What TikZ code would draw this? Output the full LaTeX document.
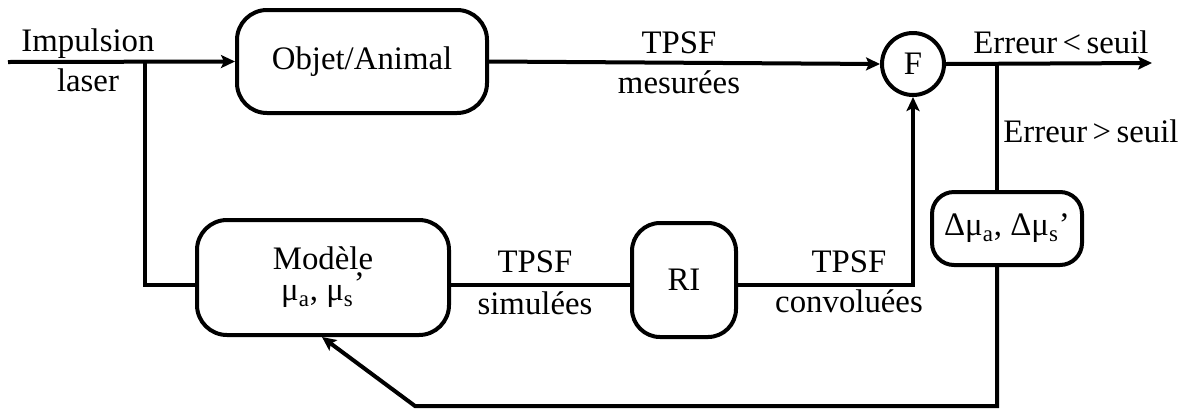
\documentclass[tikz,border=0pt]{standalone}
\usepackage{fontspec}
\setmainfont{Liberation Serif}
\usetikzlibrary{arrows.meta}
\begin{document}
\begin{tikzpicture}[x=0.5pt,y=-0.5pt,
  every node/.style={font=\fontsize{16.4}{17}\selectfont},
  box/.style={draw, line width=2pt, rounded corners=15pt, inner sep=0pt, align=center},
  ln/.style={line width=2pt},
  arr/.style={ln, -{Stealth[length=7pt,width=6.5pt,inset=1.5pt]}},
  lbl/.style={anchor=base, inner sep=0pt}]
\useasboundingbox (0,0) rectangle (1192,408);

% boxes
\node[box, minimum width=125pt, minimum height=51.5pt] (objet) at (362,61.5) {Objet/Animal};
\node[box, minimum width=126pt, minimum height=57.5pt] (model) at (323,277.5)
  {Modèle\\[-1.5pt] μ\textsubscript{a}, μ\textsubscript{s}\raisebox{3pt}{’}};
\node[box, rounded corners=14pt, minimum width=52pt, minimum height=57pt] (RI) at (684,280) {RI};
\node[box, rounded corners=11pt, minimum width=75pt, minimum height=36.5pt] (delta) at (1007,228.5)
  {Δμ\textsubscript{a}, Δμ\textsubscript{s}’};
\node[draw, circle, line width=2pt, minimum size=31pt, inner sep=0pt] (F) at (913,64) {F};

% coordinates
\coordinate (start) at (8,62);
\coordinate (j1) at (145,62);
\coordinate (j2) at (145,285);
\coordinate (c1) at (913,285);
\coordinate (out) at (1152,63);
\coordinate (b1) at (997,63);
\coordinate (b2) at (997,406);
\coordinate (b3) at (415,406);
\coordinate (tipx) at (322,0);

% connectors
\draw[arr] (start) -- (objet.west);
\draw[ln] (j1) -- (j2) -- (j2 -| model.west);
\draw[arr] (objet.east) -- (F.west);
\draw[arr] (F.east) -- (out);
\draw[ln] (b1) -- (delta.north -| b1);
\draw[ln] (model.east |- j2) -- (RI.west |- j2);
\draw[arr] (RI.east |- c1) -- (c1) -- (F.south);
\draw[arr] (delta.south -| b2) -- (b2) -- (b3) -- (model.south -| tipx);

% labels
\node[lbl] (l1) at (88,51) {Impulsion};
\node[lbl] (l2) at (88,91) {laser};
\node[lbl] (l3) at (679,53) {TPSF};
\node[lbl] (l4) at (679,93) {mesurées};
\node[lbl] (l5) at (535,272) {TPSF};
\node[lbl] (l6) at (535,314) {simulées};
\node[lbl] (l7) at (849,272) {TPSF};
\node[lbl] (l8) at (849,312) {convoluées};
\node[lbl, anchor=base west] (l9) at (973,53) {Erreur\,<\,seuil};
\node[lbl, anchor=base west] (l10) at (1003,142) {Erreur\,>\,seuil};
\end{tikzpicture}
\end{document}
